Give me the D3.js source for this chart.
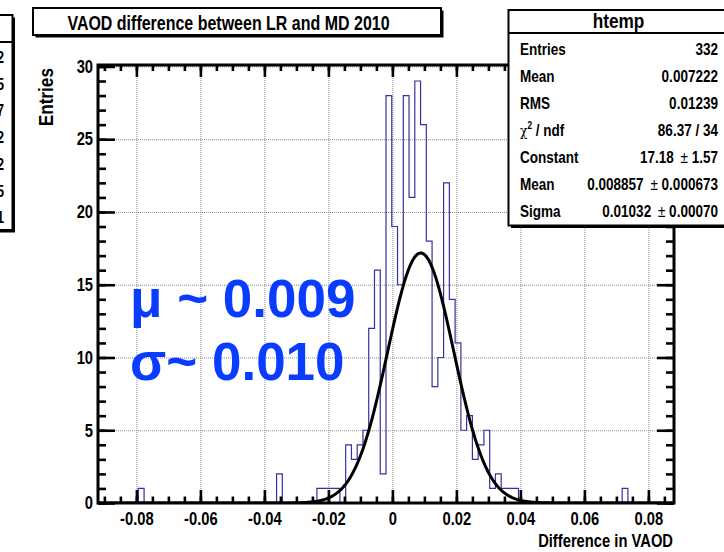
<!DOCTYPE html>
<html><head><meta charset="utf-8">
<script src="https://cdn.jsdelivr.net/npm/d3@7"></script>
<style>
html,body{margin:0;padding:0;background:#fff;}
svg{display:block;}
</style></head><body>
<svg id="c" width="724" height="552"></svg>
<script>
// ---------------- data ----------------
const chartTitle = "VAOD difference between LR and MD 2010";
const xTitle = "Difference in VAOD";
const yTitle = "Entries";
const binRange = [-0.092, 0.088];           // 100 bins
const counts = [
  0,0,0,0,0,0,0,1,0,0,
  0,0,0,0,0,0,0,0,0,0,
  0,0,0,0,0,0,0,0,0,0,
  0,2,0,0,0,0,0,0,1,1,
  1,1,0,4,3,4,5,12,16,2,
  28,19,15,28,21,29,26,18,8,10,
  22,14,11,5,6,3,4,5,1,2,
  1,1,1,0,0,0,0,0,0,0,
  0,0,0,0,0,0,0,0,0,0,
  0,1,0,0,0,0,0,0,0,0
];
const xTickValues = [-0.08,-0.06,-0.04,-0.02,0,0.02,0.04,0.06,0.08];
const xTickLabels = ["-0.08","-0.06","-0.04","-0.02","0","0.02","0.04","0.06","0.08"];
const yTickValues = [0,5,10,15,20,25,30];
const yMax = 30.1;
const fitConstant = 17.18, fitMean = 0.008857, fitSigma = 0.01032;
const statsTitle = "htemp";
const statLabels = ["Entries","Mean","RMS","χ2 / ndf","Constant","Mean","Sigma"];
const statValues = ["332","0.007222","0.01239","86.37 / 34","17.18","0.008857","0.01032"];
const statErrors = ["","","","","1.57","0.000673","0.00070"];
const annotations = ["μ ~ 0.009","σ~ 0.010"];
const leftBoxTail = ["2","5","7","2","2","5","1"];

// ---------------- layout ----------------
const FONT = '"Liberation Sans",Arial,Helvetica,sans-serif';
const SX = 0.82;   // condensed look of the original Helvetica-bold text
const svg = d3.select("#c");
const L = 98, R = 674, T = 65, B = 503;

const x = d3.scaleLinear().domain(binRange).range([L, R]);
const y = d3.scaleLinear().domain([0, yMax]).range([B, T]);

function ntext(x0, y0, size, str, anchor, extra) {
  return svg.append("text")
    .attr("transform", `translate(${x0},${y0}) ${extra || ""} scale(${SX},1)`)
    .attr("text-anchor", anchor || "start")
    .attr("font-family", FONT).attr("font-size", size).attr("font-weight", "bold")
    .attr("fill", "#000").text(str);
}

svg.append("rect").attr("width",724).attr("height",552).attr("fill","#fff");

svg.append("defs").append("clipPath").attr("id","plotclip")
  .append("rect").attr("x",L).attr("y",T).attr("width",R-L).attr("height",B-T);

// grid
const gridX = svg.append("g").attr("transform",`translate(0,${B})`)
  .call(d3.axisBottom(x).tickValues(xTickValues).tickSize(-(B-T)).tickFormat(""));
const gridY = svg.append("g").attr("transform",`translate(${L},0)`)
  .call(d3.axisLeft(y).tickValues(yTickValues.slice(1)).tickSize(-(R-L)).tickFormat(""));
[gridX, gridY].forEach(g => {
  g.select(".domain").remove();
  g.selectAll("line").attr("stroke","#8a8a8a").attr("stroke-width",1).attr("stroke-dasharray","1,1");
});

// histogram
const nb = counts.length;
const bw = (binRange[1]-binRange[0])/nb;
const pts = [[binRange[0],0]];
counts.forEach((c,i) => pts.push([binRange[0]+i*bw, c]));
pts.push([binRange[1], counts[nb-1]]);
pts.push([binRange[1], 0]);
svg.append("path")
  .attr("d", d3.line().x(d=>x(d[0])).y(d=>y(d[1])).curve(d3.curveStepAfter)(pts))
  .attr("fill","none").attr("stroke","#3333a0").attr("stroke-width",1.2)
  .attr("clip-path","url(#plotclip)");

// fit curve
const fx = d3.range(0, 601).map(i => binRange[0] + i*(binRange[1]-binRange[0])/600);
svg.append("path")
  .attr("d", d3.line().x(d=>x(d)).y(d=>y(fitConstant*Math.exp(-0.5*Math.pow((d-fitMean)/fitSigma,2))))(fx))
  .attr("fill","none").attr("stroke","#000").attr("stroke-width",3)
  .attr("clip-path","url(#plotclip)");

// axes ticks
function styleAxis(g){
  g.select(".domain").remove();
  g.selectAll("line").attr("stroke","#000").attr("stroke-width",2.6);
  g.attr("font-family",FONT).attr("font-size",18).attr("font-weight","bold");
  g.selectAll("text").attr("fill","#000").attr("transform",`scale(${SX},1)`);
}
const xMinor = d3.range(-18, 18).map(i => i*0.005).filter(v => v > binRange[0] && v < binRange[1]);
const yMinor = d3.range(0, 31);
// bottom
svg.append("g").attr("transform",`translate(0,${B})`)
  .call(d3.axisBottom(x).tickValues(xMinor).tickSizeInner(-6.5).tickSizeOuter(0).tickFormat("")).call(styleAxis);
svg.append("g").attr("transform",`translate(0,${B})`)
  .call(d3.axisBottom(x).tickValues(xTickValues).tickSizeInner(-13).tickSizeOuter(0).tickPadding(9)
    .tickFormat((d,i)=>xTickLabels[i])).call(styleAxis);
// top
svg.append("g").attr("transform",`translate(0,${T})`)
  .call(d3.axisTop(x).tickValues(xMinor).tickSizeInner(-6).tickSizeOuter(0).tickFormat("")).call(styleAxis);
svg.append("g").attr("transform",`translate(0,${T})`)
  .call(d3.axisTop(x).tickValues(xTickValues).tickSizeInner(-12).tickSizeOuter(0).tickFormat("")).call(styleAxis);
// left
svg.append("g").attr("transform",`translate(${L},0)`)
  .call(d3.axisLeft(y).tickValues(yMinor).tickSizeInner(-8).tickSizeOuter(0).tickFormat("")).call(styleAxis);
svg.append("g").attr("transform",`translate(${L},0)`)
  .call(d3.axisLeft(y).tickValues(yTickValues).tickSizeInner(-17).tickSizeOuter(0).tickPadding(6)).call(styleAxis);
// right
svg.append("g").attr("transform",`translate(${R},0)`)
  .call(d3.axisRight(y).tickValues(yMinor).tickSizeInner(-8).tickSizeOuter(0).tickFormat("")).call(styleAxis);
svg.append("g").attr("transform",`translate(${R},0)`)
  .call(d3.axisRight(y).tickValues(yTickValues).tickSizeInner(-17).tickSizeOuter(0).tickFormat("")).call(styleAxis);

// frame
svg.append("rect").attr("x",L).attr("y",T).attr("width",R-L).attr("height",B-T)
  .attr("fill","none").attr("stroke","#000").attr("stroke-width",3);

// axis titles
ntext(673, 547, 18, xTitle, "end");
ntext(53, 68, 21, yTitle, "end", "rotate(-90)");

// annotations
annotations.forEach((t,i) => {
  svg.append("text").attr("x",130).attr("y",317 + i*63)
    .attr("font-family",FONT).attr("font-size",53).attr("font-weight","bold")
    .attr("fill","#0a3cff").text(t);
});

// boxes with shadow
function box(x0,y0,w,h){
  svg.append("rect").attr("x",x0+2.5).attr("y",y0+2.5).attr("width",w).attr("height",h).attr("fill","#000");
  svg.append("rect").attr("x",x0).attr("y",y0).attr("width",w).attr("height",h)
    .attr("fill","#fff").attr("stroke","#000").attr("stroke-width",2);
}
box(33,8,408,27);
ntext(228.5, 30, 19.5, chartTitle, "middle");

// stats box
box(508.5,10,240,215.5);
svg.append("line").attr("x1",508.5).attr("x2",724).attr("y1",33).attr("y2",33).attr("stroke","#000").attr("stroke-width",2);
ntext(618.5, 28, 21, statsTitle, "middle");
statLabels.forEach((lab,i) => {
  const yy = 55 + i*27;
  if (lab.startsWith("χ2")) {
    const t = ntext(520, yy, 16.5, "", "start");
    t.append("tspan").attr("font-family","'DejaVu Serif',serif").attr("font-weight","normal").attr("font-size",15).text("χ");
    t.append("tspan").attr("font-size",10).attr("dy",-7).text("2");
    t.append("tspan").attr("dy",7).text(lab.slice(2));
  } else ntext(520, yy, 16.5, lab, "start");
  const v = ntext(718, yy, 16.5, "", "end");
  v.append("tspan").text(statValues[i]);
  if (statErrors[i]) {
    v.append("tspan").attr("font-weight","normal").text("\u2002±");
    v.append("tspan").text(" " + statErrors[i]);
  }
});

// partially visible box at left edge
box(-30,15,42.5,215);
svg.append("line").attr("x1",-30).attr("x2",12.5).attr("y1",42).attr("y2",42).attr("stroke","#000").attr("stroke-width",2);
leftBoxTail.forEach((t,i) => ntext(4, 63 + i*26.7, 16, t, "end"));
</script>
</body></html>
